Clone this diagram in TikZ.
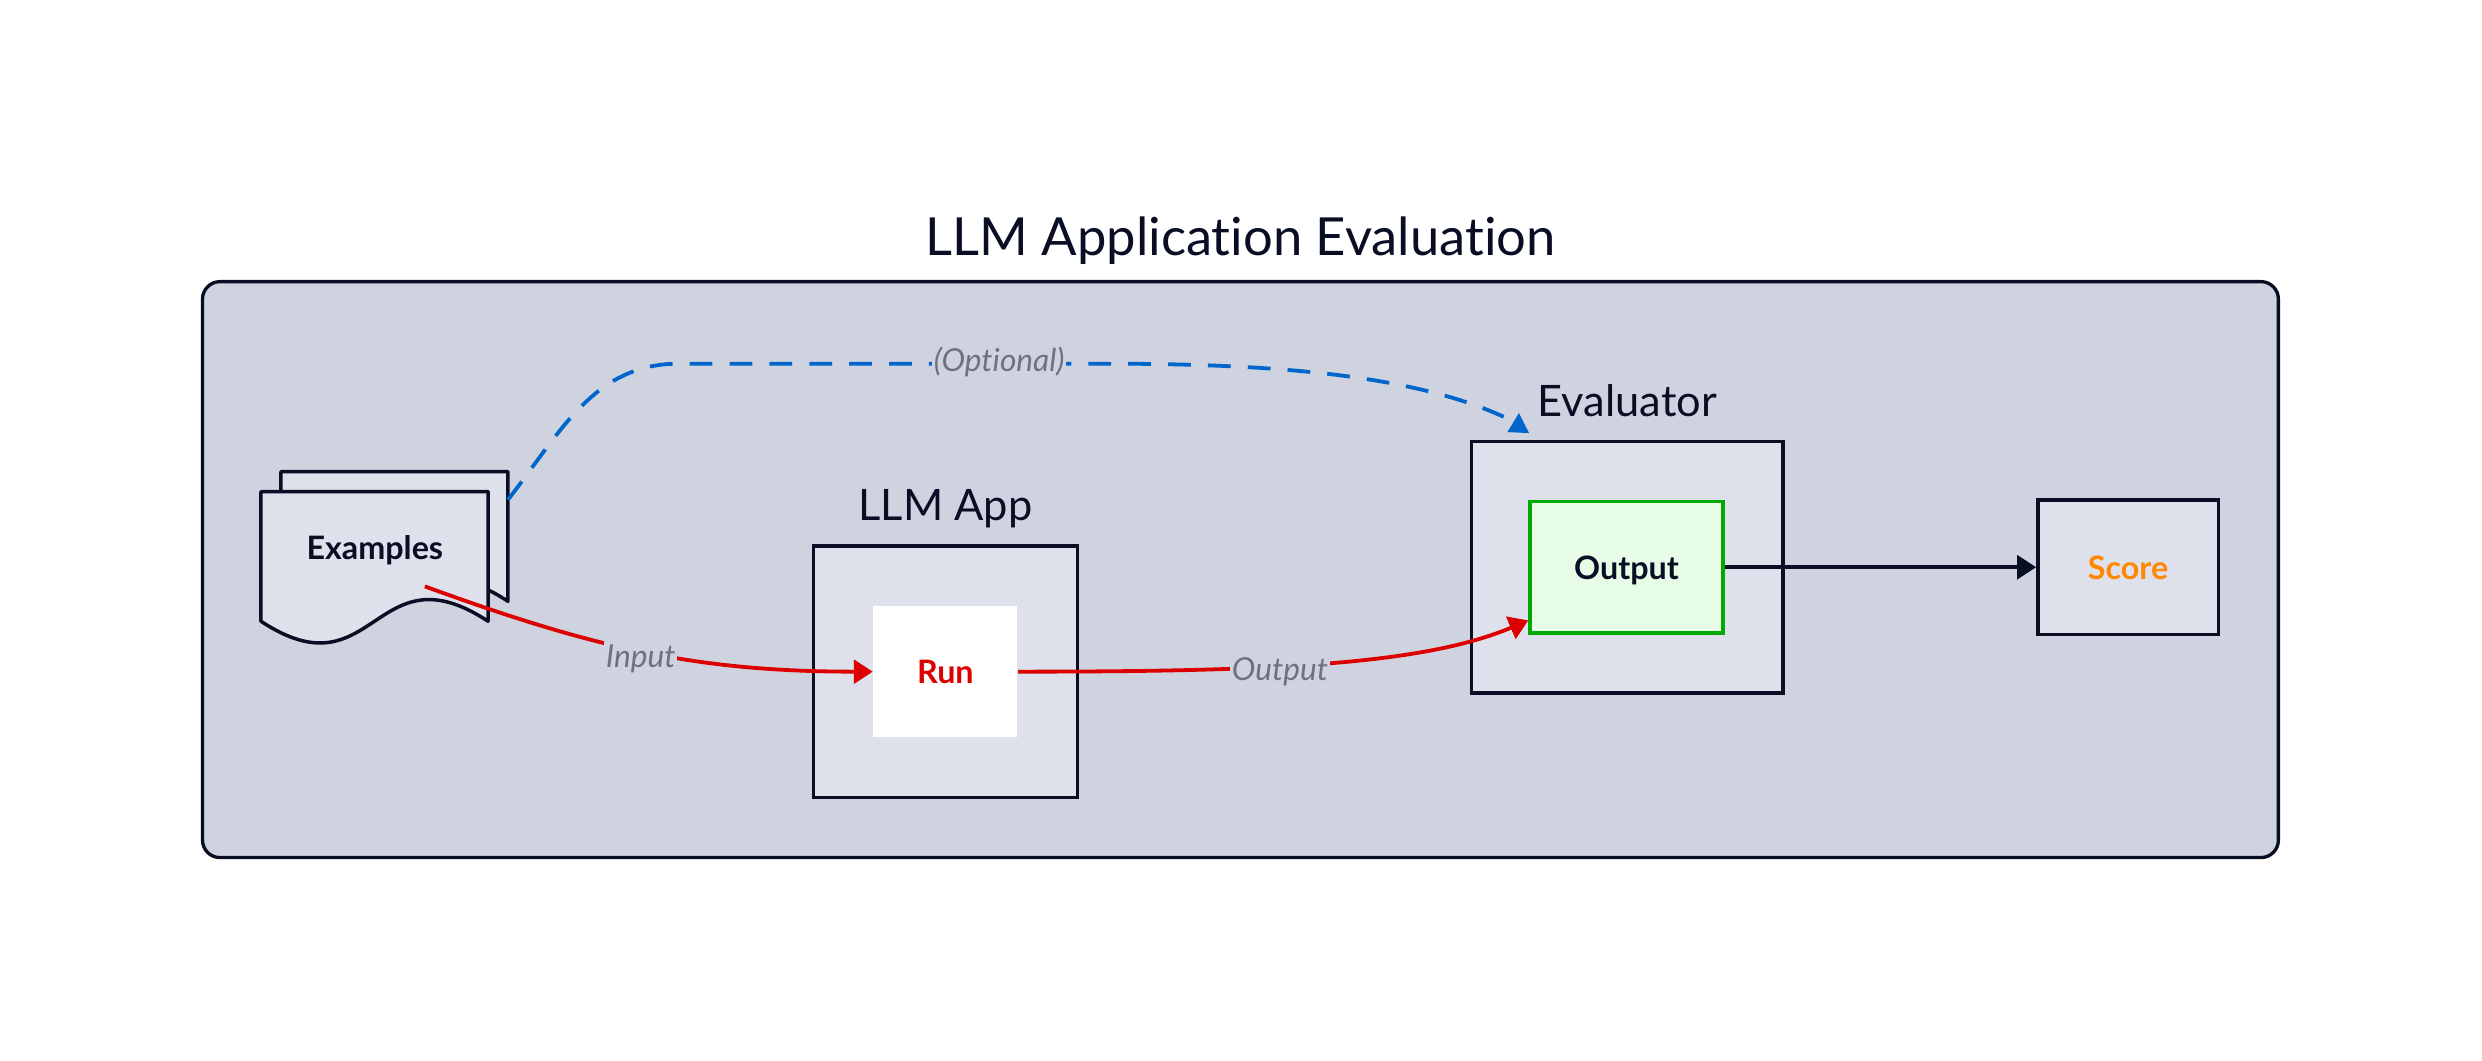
\documentclass[tikz,border=0pt]{standalone}
\usepackage{fontspec}
\setmainfont{Lato}[Ligatures={NoCommon}]
\usepackage{tikz}
\usetikzlibrary{arrows.meta,positioning}
\tikzset{>={Triangle[width=7.5pt,length=6pt]}}
\definecolor{navy}{HTML}{0A0E24}
\definecolor{panelbg}{HTML}{CFD2DF}
\definecolor{groupbg}{HTML}{DEE0EC}
\definecolor{runred}{HTML}{DD0000}
\definecolor{okgreen}{HTML}{00AA00}
\definecolor{okfill}{HTML}{E6FCE6}
\definecolor{scoreorange}{HTML}{FF8800}
\definecolor{optblue}{HTML}{0066CC}
\definecolor{labelgray}{HTML}{6E7182}

\tikzset{
  frame/.style={fill=panelbg, draw=navy, line width=1.05pt, rounded corners=5.5pt},
  group/.style={rectangle, fill=groupbg, draw=navy, line width=1.1pt},
  grouptitle/.style={anchor=base, text=navy, font=\fontsize{13.7}{16}\selectfont},
  stepbox/.style={rectangle, font=\fontsize{10.2}{12}\selectfont\bfseries,
    text depth=0pt, minimum width=45.5pt, minimum height=41.5pt},
  doctext/.style={anchor=base, text=navy, font=\fontsize{10.2}{12}\selectfont\bfseries},
  edgelabel/.style={anchor=base, fill=panelbg, text=labelgray, inner sep=0.5pt,
    text height=8.5pt, text depth=2.5pt, font=\fontsize{10}{12}\selectfont\itshape},
  flow/.style={->, draw=runred, line width=1.2pt},
  optline/.style={draw=optblue, line width=1.2pt, dash pattern=on 7.2pt off 5.4pt},
  docline/.style={fill=groupbg, draw=navy, line width=1.1pt, line join=round},
  docsheet/.pic={
    \draw[docline] (-71.75,41) -- (71.75,41) coordinate (-ne) -- (71.75,-41)
      .. controls (-0.25,6.5) and (0.25,-88.5) .. (-71.75,-41) -- cycle;
  }
}

\begin{document}
\begin{tikzpicture}[x=0.5pt, y=0.5pt]
  \useasboundingbox (0,0) rectangle (1568.7,-670);

  %% outer frame + title
  \draw[frame] (128,-178) rectangle (1440,-542);
  \node[anchor=base, text=navy, font=\fontsize{16.6}{19}\selectfont] (title)
    at (784,-161.7) {LLM Application Evaluation};

  %% examples (two sheets)
  \pic (back) at (249.3,-339.05) {docsheet};
  \pic (front) at (236.7,-351.65) {docsheet};
  \node[doctext] (examples) at (236.9,-353.3) {Examples};

  %% llm app
  \node[group, minimum width=83.5pt, minimum height=79.5pt] (llmapp)
    at (597.5,-424.5) {};
  \node[grouptitle] (apptitle) at ([yshift=7.4pt]llmapp.north) {LLM App};
  \node[stepbox, fill=white, text=runred] (run) at (llmapp.center) {Run};

  %% evaluator
  \node[group, minimum width=98.5pt, minimum height=79.5pt] (evaluator)
    at (1028.5,-358.5) {};
  \node[grouptitle] (evaltitle) at ([yshift=7.2pt]evaluator.north) {Evaluator};
  \node[stepbox, fill=okfill, draw=okgreen, line width=1.1pt, minimum width=61pt,
    text=navy] (output) at (1028,-358.5) {Output};

  %% score
  \node[stepbox, fill=groupbg, draw=navy, line width=1.1pt, minimum width=57pt,
    minimum height=42.5pt, text=scoreorange] (score) at (1345,-358.5) {Score};

  %% edges
  \coordinate (exin) at ([shift={(31.6,-17.3)}]examples.base);
  \draw[flow] (exin) to[out=-20,in=180]
    node[edgelabel, pos=0.49, yshift=-5.3pt] {Input} (run.west);
  \draw[flow] (run.east) to[out=0, in=203, out distance=78.5pt, in distance=36.3pt]
    node[edgelabel, pos=0.41, yshift=-4.5pt] {Output} ([yshift=4.5pt]output.south west);
  \draw[->, draw=navy, line width=1.1pt] (output.east) -- (score.west);

  \coordinate (optend) at ([shift={(22.5,14)}]evaluator.north west);
  \draw[optline] ([yshift=-8.9pt]back-ne) to[out=52,in=180] ++(108,86)
    -- node[edgelabel, pos=0.75, yshift=-2.6pt] {(Optional)} ++(270,0)
    to[out=0, in=155, out distance=50pt, in distance=33pt] (optend);
  \fill[optblue] ([shift={(23.8,4.8)}]evaluator.north west) -- ++(13.7,-0.6)
    -- ++(-6.4,12.6) -- cycle;
\end{tikzpicture}
\end{document}
